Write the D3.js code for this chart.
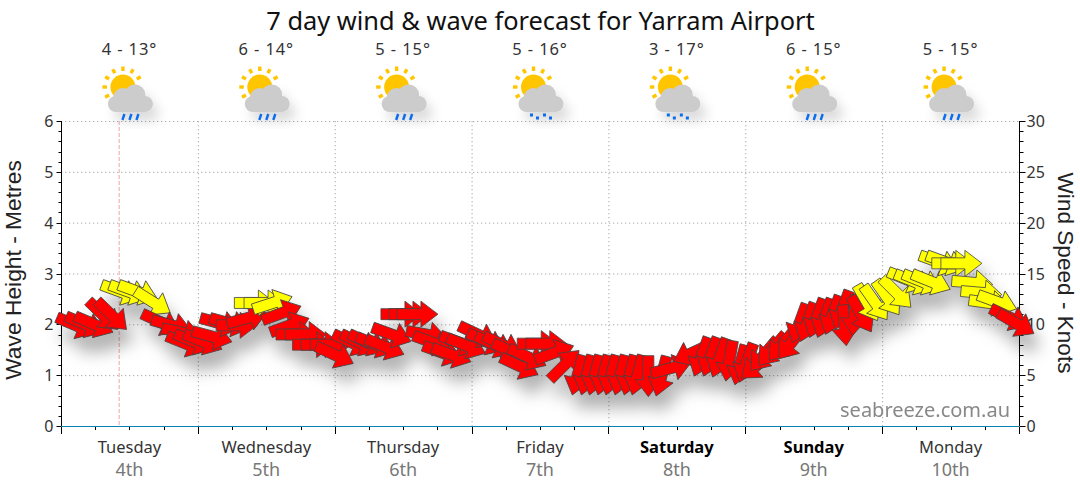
<!DOCTYPE html>
<html><head><meta charset="utf-8">
<script src="https://cdn.jsdelivr.net/npm/d3@7"></script>
<style>html,body{margin:0;padding:0;background:#fff}svg{display:block}text{font-family:"Noto Sans",sans-serif}</style>
</head><body><svg id="c" width="1080" height="490"></svg>
<script>
const titleText="7 day wind & wave forecast for Yarram Airport";
const dayNames=["Tuesday","Wednesday","Thursday","Friday","Saturday","Sunday","Monday"];
const dayDates=["4th","5th","6th","7th","8th","9th","10th"];
const weekend=["Saturday","Sunday"];
const tempRanges=["4 - 13°","6 - 14°","5 - 15°","5 - 16°","3 - 17°","6 - 15°","5 - 15°"];
const weatherKinds=["rain","rain","rain","drizzle","drizzle","rain","rain"];
const nowHour=10.2;
const arrowHours=[2.6,4.2,5.8,7.4,8.9,10.5,11.9,13.5,16.1,17.5,19.4,21.2,21.9,23.3,24.9,26.5,27.9,29.6,30.8,32.6,34.0,35.7,37.1,38.7,40.1,41.3,42.9,44.2,45.7,47.3,48.0,51.0,52.4,53.8,55.2,56.8,58.0,59.7,61.1,62.5,64.1,65.2,66.9,68.5,69.9,71.1,73.1,74.6,76.0,77.4,79.0,80.4,81.8,83.6,85.1,86.5,88.3,90.6,92.2,93.6,95.1,96.5,98.1,99.7,101.1,103.0,105.3,107.0,110.7,112.3,113.9,115.5,117.2,119.1,120.2,122.1,123.3,124.7,126.5,128.1,129.5,130.9,132.5,133.9,135.3,137.0,137.4,139.1,140.3,141.4,142.8,144.9,146.5,148.4,149.6,151.0,152.6,154.0,155.2,156.3,157.9,159.8,161.4,162.8,164.2,166.3,167.5];
const arrowKnots=[9.9,10.0,10.0,10.9,10.9,13.2,13.2,13.2,12.2,10.2,9.9,9.2,8.1,8.3,8.3,8.8,10.1,10.1,9.9,10.6,12.1,12.1,12.1,11.1,9.9,9.0,9.0,8.0,8.0,8.0,7.0,8.2,8.2,8.2,8.0,7.8,9.0,11.0,11.0,11.0,9.0,8.2,7.2,7.0,8.2,7.9,9.0,8.3,8.0,8.0,7.3,5.9,6.8,8.1,8.1,7.2,6.0,5.0,5.0,5.0,5.0,5.0,5.0,5.0,5.0,4.9,4.9,5.7,7.2,6.8,6.8,6.7,6.4,6.0,6.2,6.0,7.0,7.5,8.0,8.2,10.1,10.2,10.6,10.6,10.9,11.4,9.9,10.9,11.0,12.1,12.1,12.6,13.1,14.4,14.2,14.2,14.2,16.1,16.1,16.0,16.0,14.1,13.1,12.1,12.2,10.7,10.1];
const arrowBearing=[23,23,23,44,44,20,20,20,32,25,15,12,22,22,22,15,15,15,0,-15,0,0,-18,-20,-20,0,0,0,0,0,25,25,25,25,22,22,20,0,0,0,10,20,20,20,20,22,25,25,25,25,25,25,25,0,0,-20,-45,105,105,105,105,105,105,105,105,90,105,-15,155,110,110,110,100,105,110,140,130,130,130,128,110,110,110,110,110,110,85,95,60,60,55,55,45,22,22,22,22,20,20,0,0,5,5,8,20,25,30];
const yellowFrom=12;

const W=1080,m={l:61,r:1019,t:121,b:426};
const svg=d3.select("#c");
const x=d3.scaleLinear().domain([0,168]).range([m.l,m.r]);
const yL=d3.scaleLinear().domain([0,6]).range([m.b,m.t]);
const yR=d3.scaleLinear().domain([0,30]).range([m.b,m.t]);
const defs=svg.append("defs");
const f=defs.append("filter").attr("id","sh").attr("x","-20%").attr("y","-30%").attr("width","140%").attr("height","180%");
f.append("feDropShadow").attr("dx",6).attr("dy",15).attr("stdDeviation",8).attr("flood-color","#000").attr("flood-opacity",.3);
const f2=defs.append("filter").attr("id","sh2").attr("x","-30%").attr("y","-30%").attr("width","170%").attr("height","190%");
f2.append("feDropShadow").attr("dx",6).attr("dy",9).attr("stdDeviation",6).attr("flood-color","#000").attr("flood-opacity",.14);

svg.append("text").attr("x",540.5).attr("y",30).attr("text-anchor","middle").attr("font-size",25.4).attr("fill","#111").text(titleText);

// grid
const grid=svg.append("g").attr("stroke","#aaa").attr("stroke-dasharray","1.3 2.7");
grid.selectAll("line.h").data(d3.range(1,7)).join("line").attr("x1",m.l).attr("x2",m.r).attr("y1",d=>yL(d)+.5).attr("y2",d=>yL(d)+.5);
grid.selectAll("line.v").data(d3.range(1,7)).join("line").attr("x1",d=>x(d*24)+.5).attr("x2",d=>x(d*24)+.5).attr("y1",m.t).attr("y2",m.b);
svg.append("line").attr("x1",x(nowHour)).attr("x2",x(nowHour)).attr("y1",m.t).attr("y2",m.b).attr("stroke","#f0a8a8").attr("stroke-dasharray","4 2");

// left axis
const axL=svg.append("g").attr("transform",`translate(${m.l+.5},0)`);
axL.append("line").attr("y1",m.t).attr("y2",m.b).attr("stroke","#000");
axL.selectAll("line.t").data(d3.range(0,6.01,.2)).join("line").attr("x1",(d,i)=>i%5?-3:-5).attr("x2",(d,i)=>i==0?6:0).attr("y1",d=>Math.round(yL(d))+.5).attr("y2",d=>Math.round(yL(d))+.5).attr("stroke","#000");
axL.selectAll("text").data(d3.range(0,7)).join("text").attr("x",-8).attr("y",d=>yL(d)+6).attr("text-anchor","end").attr("font-size",16).attr("fill","#333").text(d=>d);
// right axis
const axR=svg.append("g").attr("transform",`translate(${m.r+.5},0)`);
axR.append("line").attr("y1",m.t).attr("y2",m.b).attr("stroke","#000");
axR.selectAll("line.t").data(d3.range(0,30.01,1)).join("line").attr("x1",0).attr("x2",(d,i)=>i%5?4:6).attr("y1",d=>Math.round(yR(d))+.5).attr("y2",d=>Math.round(yR(d))+.5).attr("stroke","#000");
axR.selectAll("text").data(d3.range(0,31,5)).join("text").attr("x",7).attr("y",d=>yR(d)+6).attr("font-size",16).attr("fill","#333").text(d=>d);

// x axis
svg.append("line").attr("x1",m.l).attr("x2",m.r).attr("y1",m.b+.5).attr("y2",m.b+.5).attr("stroke","#0a7fb5").attr("stroke-width",1.2);
svg.append("g").selectAll("line").data(d3.range(0,169,6)).join("line").attr("x1",d=>Math.round(x(d))+.5).attr("x2",d=>Math.round(x(d))+.5).attr("y1",m.b+1).attr("y2",d=>d%24?m.b+4:m.b+8).attr("stroke","#000");
const center=i=>x(i*24+12);
svg.append("g").selectAll("text").data(dayNames).join("text").attr("x",(d,i)=>center(i)).attr("y",453).attr("text-anchor","middle").attr("font-size",16.5).attr("fill",d=>weekend.includes(d)?"#000":"#333").attr("font-weight",d=>weekend.includes(d)?"bold":"normal").text(d=>d);
svg.append("g").selectAll("text").data(dayDates).join("text").attr("x",(d,i)=>center(i)).attr("y",476).attr("text-anchor","middle").attr("font-size",18).attr("fill","#777").text(d=>d);

// axis titles
svg.append("text").attr("transform","translate(21,270) rotate(-90)").attr("text-anchor","middle").attr("font-size",22.8).attr("fill","#222").style("font-family","Liberation Sans").text("Wave Height - Metres");
svg.append("text").attr("transform","translate(1058,273) rotate(90)").attr("text-anchor","middle").attr("font-size",22.6).attr("fill","#222").style("font-family","Liberation Sans").text("Wind Speed - Knots");

// temperatures
svg.append("g").selectAll("text").data(tempRanges).join("text").attr("x",(d,i)=>center(i)).attr("y",55).attr("text-anchor","middle").attr("font-size",16.5).attr("letter-spacing",.9).attr("fill","#333").text(d=>d);

// icons
const rays=[-150,-120,-90,-60,-30,180,150];
weatherKinds.forEach((k,i)=>{
  const g=svg.append("g").attr("transform",`translate(${center(i)-6.5},87)`);
  g.append("circle").attr("r",12.5).attr("fill","#ffc600");
  rays.forEach(a=>{
    g.append("rect").attr("x",16).attr("y",-1.7).attr("width",4.5).attr("height",3.4).attr("fill","#ffc600").attr("transform",`rotate(${a})`);
  });
  const c=g.append("g").attr("fill","#ccc").attr("filter","url(#sh2)");
  [[-7,17,8],[0,11,10],[12,8,10.5],[22,17,8]].forEach(p=>c.append("circle").attr("cx",p[0]).attr("cy",p[1]).attr("r",p[2]));
  c.append("rect").attr("x",-7).attr("y",12).attr("width",29).attr("height",13);
  if(k==="rain"){
    [0,7,14].forEach(dx=>g.append("line").attr("x1",dx+1.5).attr("y1",27).attr("x2",dx-.5).attr("y2",33).attr("stroke","#0a6cf0").attr("stroke-width",2.4));
  } else {
    [[-2,28],[4,31],[11,28],[17,31]].forEach(p=>g.append("rect").attr("x",p[0]-1.5).attr("y",p[1]-1.5).attr("width",3).attr("height",3).attr("fill","#0a6cf0"));
  }
});

// arrows
const L=41,hl=17,sw=5.5,hw=13;
const arrowPath=`M${-L/2},${-sw}L${L/2-hl},${-sw}L${L/2-hl},${-hw}L${L/2},0L${L/2-hl},${hw}L${L/2-hl},${sw}L${-L/2},${sw}Z`;
const arrows=d3.range(arrowHours.length).map(i=>({h:arrowHours[i],k:arrowKnots[i],b:arrowBearing[i]}));
svg.append("g").attr("filter","url(#sh)").selectAll("path").data(arrows).join("path")
  .attr("d",arrowPath)
  .attr("transform",d=>`translate(${x(d.h)},${yR(d.k)}) rotate(${d.b})`)
  .attr("fill",d=>d.k>=yellowFrom?"#ffff00":"#ff0000").attr("stroke","#444").attr("stroke-width",.8);

svg.append("text").attr("x",1010).attr("y",417).attr("text-anchor","end").attr("font-size",20).attr("fill","#888").text("seabreeze.com.au");
</script></body></html>
